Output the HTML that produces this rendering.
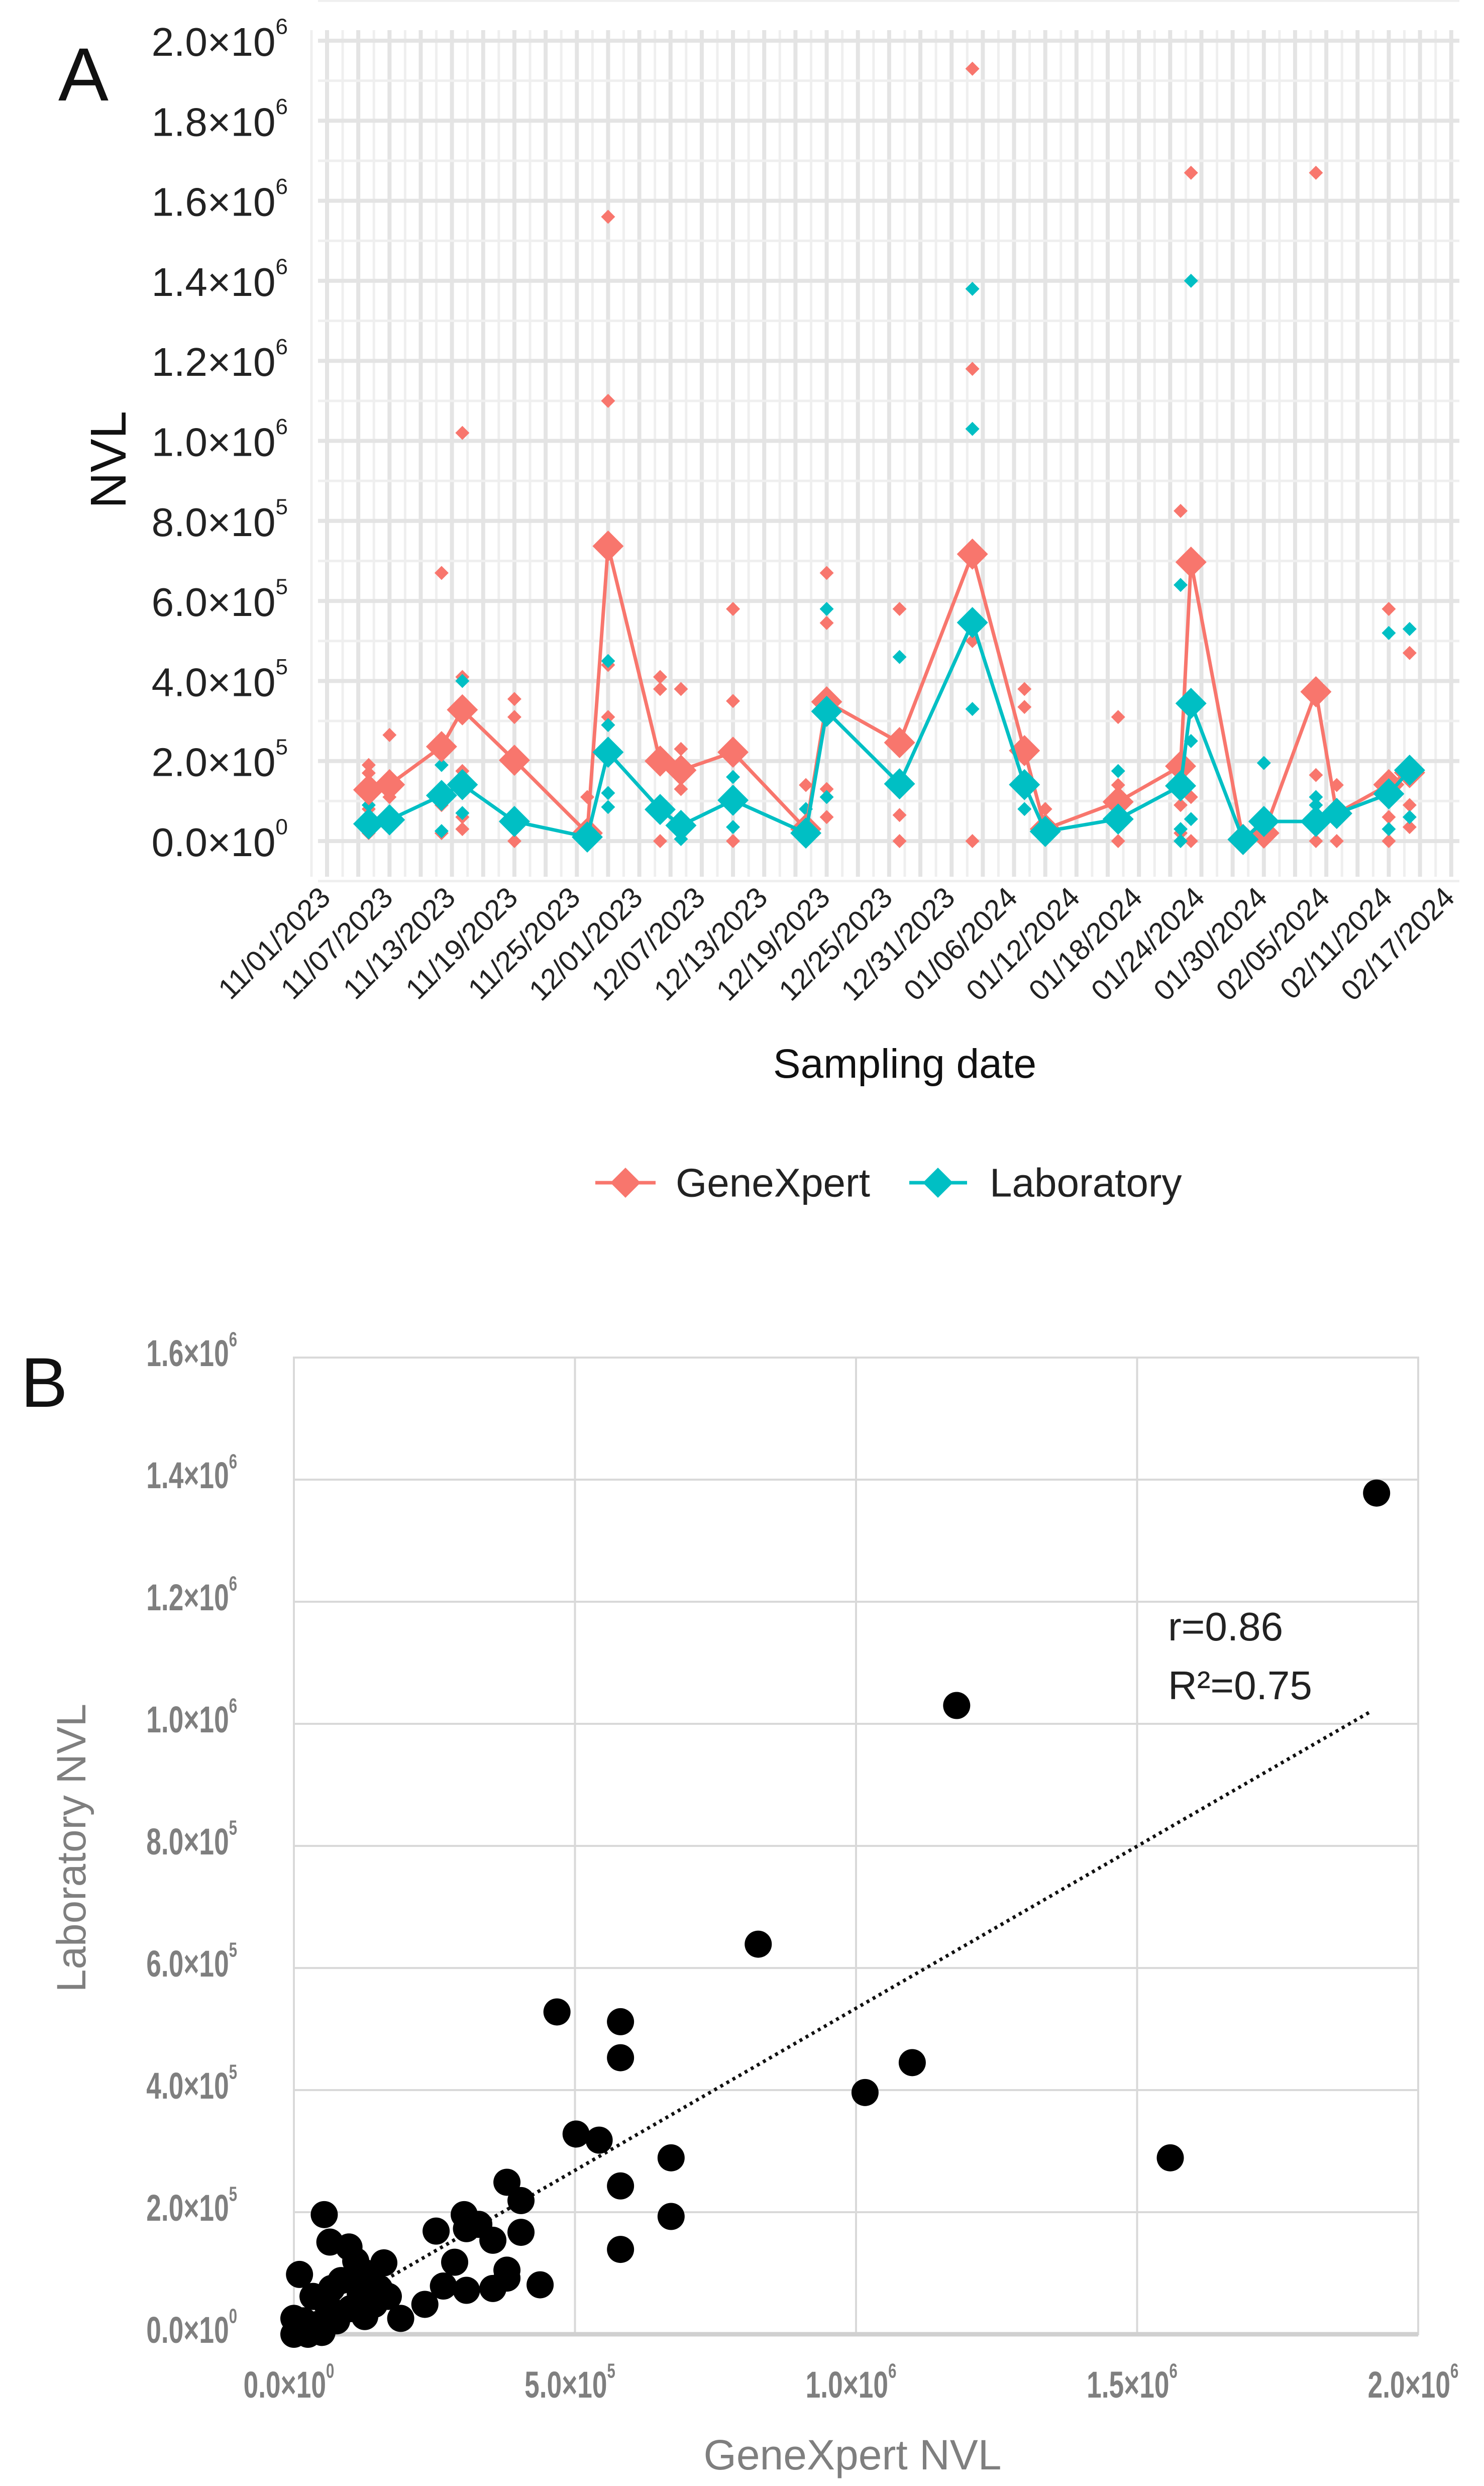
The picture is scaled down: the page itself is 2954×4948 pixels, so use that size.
<!DOCTYPE html>
<html><head><meta charset="utf-8">
<style>
html,body{margin:0;padding:0;background:#fff;}
svg{display:block;font-family:"Liberation Sans",Arial,sans-serif;}
</style></head>
<body>
<svg id="root" width="2954" height="4948" viewBox="0 0 2954 4948" xmlns="http://www.w3.org/2000/svg">
  <rect width="2954" height="4948" fill="#fff"/>
  <g id="panelA"></g>
  <g id="panelB"></g>
</svg>
<script>
const NS='http://www.w3.org/2000/svg';
// ---------- Panel A data ----------
const dateLabels=['11/01/2023','11/07/2023','11/13/2023','11/19/2023','11/25/2023','12/01/2023','12/07/2023','12/13/2023','12/19/2023','12/25/2023','12/31/2023','01/06/2024','01/12/2024','01/18/2024','01/24/2024','01/30/2024','02/05/2024','02/11/2024','02/17/2024'];
const yTicksA=[0,2e5,4e5,6e5,8e5,1e6,1.2e6,1.4e6,1.6e6,1.8e6,2e6];
const yTickLabelsA=[['0.0','0'],['2.0','5'],['4.0','5'],['6.0','5'],['8.0','5'],['1.0','6'],['1.2','6'],['1.4','6'],['1.6','6'],['1.8','6'],['2.0','6']];
const meanDays=[4,6,11,13,18,25,27,32,34,39,46,48,55,62,67,69,76,82,83,88,90,95,97,102,104];
const geneMean=[1.28e5,1.41e5,2.36e5,3.28e5,2.02e5,0.2e5,7.37e5,2.0e5,1.77e5,2.22e5,0.3e5,3.48e5,2.46e5,7.17e5,2.26e5,0.3e5,0.98e5,1.87e5,6.97e5,0.04e5,0.2e5,3.73e5,0.69e5,1.41e5,1.71e5];
const labMean=[0.43e5,0.53e5,1.14e5,1.41e5,0.49e5,0.1e5,2.22e5,0.79e5,0.39e5,1.02e5,0.2e5,3.24e5,1.43e5,5.46e5,1.41e5,0.24e5,0.55e5,1.38e5,3.44e5,0.04e5,0.49e5,0.49e5,0.69e5,1.18e5,1.77e5];
const geneObsDay=[4,4,4,4,6,6,6,11,11,11,13,13,13,13,13,18,18,18,25,25,27,27,27,27,27,32,32,32,34,34,34,39,39,39,46,48,48,48,48,55,55,55,62,62,62,62,67,67,69,76,76,76,82,82,82,83,83,83,95,95,95,97,97,102,102,102,104,104,104];
const geneObsVal=[1.9e5,1.7e5,0.2e5,0.8e5,2.65e5,1.6e5,1.1e5,6.7e5,0.2e5,0.9e5,10.2e5,0.3e5,0.6e5,1.75e5,4.1e5,3.55e5,3.1e5,0,1.1e5,0.35e5,15.6e5,11.0e5,4.4e5,3.1e5,2.9e5,4.1e5,3.8e5,0,3.8e5,2.3e5,1.3e5,5.8e5,3.5e5,0,1.4e5,6.7e5,5.45e5,1.3e5,0.6e5,5.8e5,0.65e5,0,19.3e5,11.8e5,0,5.0e5,3.8e5,3.35e5,0.8e5,3.1e5,1.4e5,0,8.25e5,0.9e5,0.2e5,16.7e5,1.1e5,0,16.7e5,1.65e5,0,1.4e5,0,5.8e5,0.6e5,0,4.7e5,0.9e5,0.35e5];
const labObsDay=[4,11,11,13,13,27,27,27,27,32,34,39,39,46,48,48,55,62,62,62,67,76,82,82,82,83,83,83,90,95,95,97,102,102,104,104];
const labObsVal=[0.9e5,1.9e5,0.25e5,4.0e5,0.7e5,4.5e5,2.9e5,1.2e5,0.85e5,0.9e5,0.05e5,1.6e5,0.35e5,0.8e5,5.8e5,1.1e5,4.6e5,13.8e5,10.3e5,3.3e5,0.8e5,1.75e5,6.4e5,0.3e5,0,14.0e5,2.5e5,0.55e5,1.95e5,1.1e5,0.9e5,0.5e5,5.2e5,0.3e5,5.3e5,0.6e5];
// ---------- Panel B data ----------
const xTicksB=[0,5e5,1e6,1.5e6,2e6];
const xTickLabelsB=[['0.0','0'],['5.0','5'],['1.0','6'],['1.5','6'],['2.0','6']];
const yTicksB=[0,2e5,4e5,6e5,8e5,1e6,1.2e6,1.4e6,1.6e6];
const yTickLabelsB=[['0.0','0'],['2.0','5'],['4.0','5'],['6.0','5'],['8.0','5'],['1.0','6'],['1.2','6'],['1.4','6'],['1.6','6']];
const scGene=[1.926e6,1.179e6,0.826e6,0.468e6,0.581e6,0.581e6,1.100e6,1.016e6,1.559e6,0.502e6,0.543e6,0.671e6,0.671e6,0.581e6,0.581e6,0.379e6,0.404e6,0.404e6,0.354e6,0.303e6,0.329e6,0.307e6,0.253e6,0.286e6,0.379e6,0.379e6,0.354e6,0.438e6,0.266e6,0.307e6,0.233e6,0.19e6,0.054e6,0.064e6,0.098e6,0.01e6,0.16e6,0.126e6,0.084e6,0.152e6,0.168e6,0.034e6,0.059e6,0.101e6,0.126e6,0.076e6,0.017e6,0.042e6,0,0.025e6,0.05e6,0,0.143e6,0.118e6,0.067e6,0.11e6];
const scLab=[1.378e6,1.03e6,0.639e6,0.528e6,0.512e6,0.453e6,0.445e6,0.396e6,0.289e6,0.328e6,0.318e6,0.289e6,0.193e6,0.243e6,0.139e6,0.249e6,0.219e6,0.167e6,0.154e6,0.196e6,0.180e6,0.173e6,0.169e6,0.118e6,0.105e6,0.092e6,0.075e6,0.081e6,0.079e6,0.072e6,0.049e6,0.026e6,0.196e6,0.151e6,0.143e6,0.098e6,0.117e6,0.101e6,0.088e6,0.075e6,0.062e6,0.062e6,0.049e6,0.042e6,0.029e6,0.022e6,0.022e6,0.016e6,0,0,0.003e6,0.026e6,0.049e6,0.068e6,0.075e6,0.12e6];
const trendSlope=0.531, trendIntercept=3000;
const statLines=['r=0.86','R²=0.75'];

function mk(parent,tag,attrs,text){const e=document.createElementNS(NS,tag);for(const k in attrs)e.setAttribute(k,attrs[k]);if(text!==undefined)e.textContent=text;parent.appendChild(e);return e;}
function sciLabel(parent,x,y,mant,exp,size,fill,weight,anchor,sx){
  sx=sx||1;
  const attrs={x:x/sx,y:y,'font-size':size,fill:fill,'font-weight':weight||'normal','text-anchor':anchor,'dominant-baseline':'central'};
  if(sx!==1) attrs.transform=`scale(${sx},1)`;
  const t=mk(parent,'text',attrs);
  const a=document.createElementNS(NS,'tspan');a.textContent=mant+'×10';t.appendChild(a);
  const b=document.createElementNS(NS,'tspan');b.setAttribute('dy',-size*0.38);b.setAttribute('font-size',size*0.55);b.textContent=exp;t.appendChild(b);
  return t;
}
function diamond(parent,cx,cy,r,fill){return mk(parent,'polygon',{points:`${cx},${cy-r} ${cx+r},${cy} ${cx},${cy+r} ${cx-r},${cy}`,fill:fill});}

// ---------- Panel A ----------
(function(){
  const g=document.getElementById('panelA');
  const X0=651, PXD=20.72, Y0=1674, PYV=(1674-81)/2e6;
  const xs=d=>X0+d*PXD, ys=v=>Y0-v*PYV;
  const RED='#F8766D', TEAL='#00BFC4';
  const grid=mk(g,'g',{});
  
  
  for(let d=-1.5; d<=109; d+=1.5){
    mk(grid,'line',{x1:xs(d),x2:xs(d),y1:60,y2:1745,stroke:(Math.round(d/1.5)%2===0)?'#e4e4e4':'#efefef','stroke-width':(Math.round(d/1.5)%2===0)?8:5});
  }
  for(let v=-1e5; v<=2.1e6; v+=1e5){
    mk(grid,'line',{x1:633,x2:2905,y1:ys(v),y2:ys(v),stroke:(Math.round(v/1e5)%2===0)?'#e4e4e4':'#efefef','stroke-width':(Math.round(v/1e5)%2===0)?8:5});
  }
  yTicksA.forEach((v,i)=>{
    const t=sciLabel(g,573,ys(v)+2,yTickLabelsA[i][0],yTickLabelsA[i][1],80,'#222','normal','end');
    
    
  });
  dateLabels.forEach((s,i)=>{
    const x=xs(i*6)+10;
    const t=mk(g,'text',{x:x,y:1790,'font-size':58,fill:'#222','text-anchor':'end',transform:`rotate(-45 ${x} 1790)`},s);
    
    
  });
  const obs=mk(g,'g',{});
  
  
  geneObsDay.forEach((d,i)=>{const p=diamond(obs,xs(d),ys(geneObsVal[i]),14,RED);
    
    });
  labObsDay.forEach((d,i)=>{const p=diamond(obs,xs(d),ys(labObsVal[i]),14,TEAL);
    
    });
  function series(vals,col,name){
    const sg=mk(g,'g',{});
    
    
    mk(sg,'polyline',{points:meanDays.map((d,i)=>xs(d)+','+ys(vals[i])).join(' '),fill:'none',stroke:col,'stroke-width':7,'stroke-linejoin':'round'});
    meanDays.forEach((d,i)=>{const p=diamond(sg,xs(d),ys(vals[i]),31,col);
      
      });
  }
  series(geneMean,RED,'genexpert');
  series(labMean,TEAL,'laboratory');
  let t=mk(g,'text',{x:166,y:200,'font-size':150,fill:'#111','text-anchor':'middle'},'A');
   
  t=mk(g,'text',{x:250,y:915,'font-size':100,fill:'#111','text-anchor':'middle',transform:'rotate(-90 250 915)'},'NVL');
   
  t=mk(g,'text',{x:1801,y:2145,'font-size':82,fill:'#111','text-anchor':'middle'},'Sampling date');
   
  const lg=mk(g,'g',{});
  
  
  const e1=mk(lg,'g',{});
   
  mk(e1,'line',{x1:1185,x2:1305,y1:2354,y2:2354,stroke:RED,'stroke-width':7});
  diamond(e1,1245,2354,30,RED);
  mk(e1,'text',{x:1345,y:2354,'font-size':80,fill:'#222','dominant-baseline':'central'},'GeneXpert');
  const e2=mk(lg,'g',{});
   
  mk(e2,'line',{x1:1810,x2:1925,y1:2354,y2:2354,stroke:TEAL,'stroke-width':7});
  diamond(e2,1867,2354,30,TEAL);
  mk(e2,'text',{x:1970,y:2354,'font-size':80,fill:'#222','dominant-baseline':'central'},'Laboratory');
})();

// ---------- Panel B ----------
(function(){
  const g=document.getElementById('panelB');
  const L=585,R=2823,T=2702,B=4646;
  const xs=v=>L+v/2e6*(R-L), ys=v=>B-v/1.6e6*(B-T);
  const grid=mk(g,'g',{});
  
  
  yTicksB.forEach(v=>mk(grid,'line',{x1:L,x2:R,y1:ys(v),y2:ys(v),stroke:'#d9d9d9','stroke-width':4}));
  xTicksB.forEach(v=>mk(grid,'line',{x1:xs(v),x2:xs(v),y1:T,y2:B,stroke:'#d9d9d9','stroke-width':4}));
  mk(grid,'rect',{x:L,y:T,width:R-L,height:B-T,fill:'none',stroke:'#d9d9d9','stroke-width':4});
  mk(grid,'line',{x1:L,x2:R,y1:B,y2:B,stroke:'#d0d0d0','stroke-width':9});
  yTicksB.forEach((v,i)=>{const t=sciLabel(g,472,ys(v)-8,yTickLabelsB[i][0],yTickLabelsB[i][1],74,'#7f7f7f','bold','end',0.72);
     });
  xTicksB.forEach((v,i)=>{const t=sciLabel(g,xs(v)-10,4747,xTickLabelsB[i][0],xTickLabelsB[i][1],74,'#7f7f7f','bold','middle',0.72);
     });
  const tr=mk(g,'line',{x1:xs(0),y1:ys(trendIntercept),x2:xs(1.916e6),y2:ys(trendIntercept+trendSlope*1.916e6),stroke:'#111','stroke-width':7,'stroke-dasharray':'6 8'});
   
  scGene.forEach((v,i)=>{const c=mk(g,'circle',{cx:xs(v),cy:ys(scLab[i]),r:27,fill:'#000'});
     });
  let t=mk(g,'text',{x:2325,y:3265,'font-size':80,fill:'#222'},statLines[0]);
   
  t=mk(g,'text',{x:2325,y:3382,'font-size':80,fill:'#222'},statLines[1]);
   
  t=mk(g,'text',{x:88,y:2800,'font-size':140,fill:'#111','text-anchor':'middle'},'B');
   
  t=mk(g,'text',{x:170,y:3678,'font-size':82,fill:'#7f7f7f','text-anchor':'middle',transform:'rotate(-90 170 3678)'},'Laboratory NVL');
   
  t=mk(g,'text',{x:1697,y:4915,'font-size':84,fill:'#7f7f7f','text-anchor':'middle'},'GeneXpert NVL');
   
})();
</script>
</body></html>
